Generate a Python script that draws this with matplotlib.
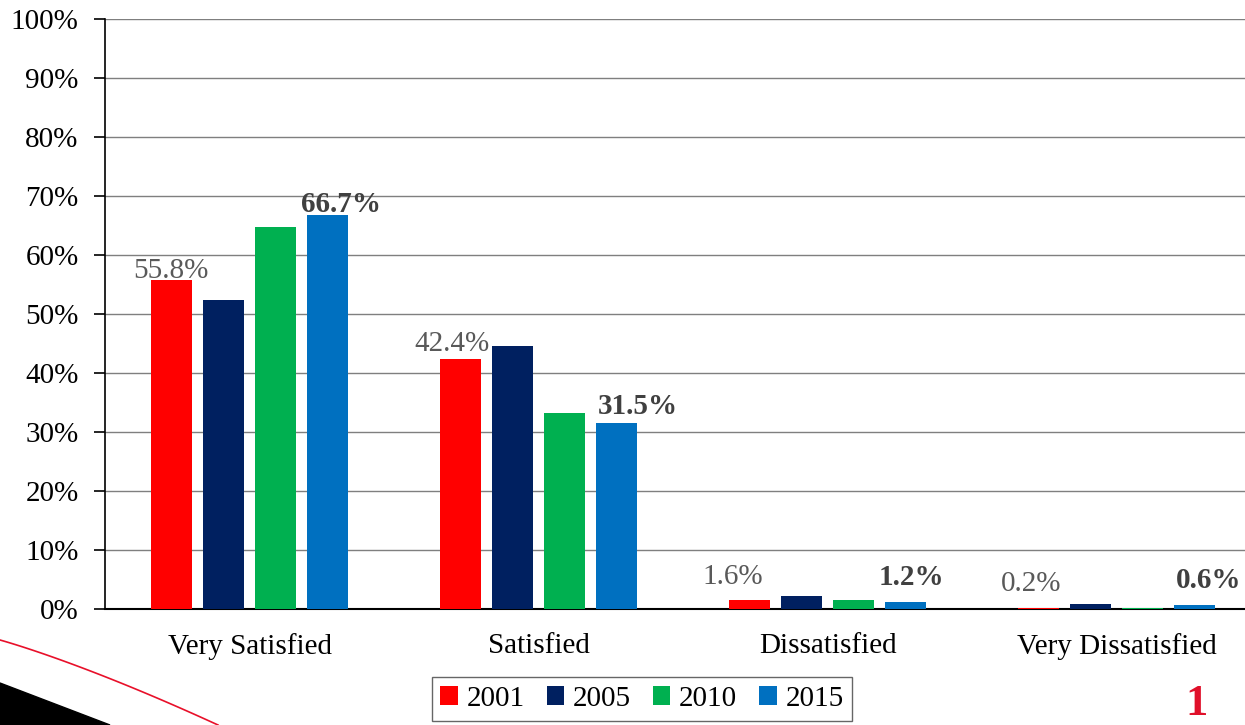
import numpy as np
import matplotlib.pyplot as plt
from matplotlib.patches import Polygon

plt.rcParams['font.family'] = ['Liberation Serif', 'DejaVu Serif']

# Veriler
categories = ["Very Satisfied", "Satisfied", "Dissatisfied", "Very Dissatisfied"]
years = ["2001", "2005", "2010", "2015"]
v2001 = [55.8, 42.4, 1.6, 0.2]
v2005 = [52.4, 44.6, 2.2, 0.8]
v2010 = [64.7, 33.2, 1.5, 0.2]
v2015 = [66.7, 31.5, 1.2, 0.6]
yticks = [0, 10, 20, 30, 40, 50, 60, 70, 80, 90, 100]

series = [v2001, v2005, v2010, v2015]
colors = ["#ff0000", "#002060", "#00b050", "#0070c0"]

# etiket kaydırmaları (piksel): orijinal grafikte elle yerleştirilmiş
lab_dx = {0: [0, -8, -16, -7], 3: [13, 21, 5, 14]}
lab_dy = {0: [12, 18, 26, 27], 3: [14, 20, 27, 28]}

W, H = 1245, 725
FS = 21
fig = plt.figure(figsize=(W / 100, H / 100), dpi=100)
# eksen: sol 105px, kategori başına 289px (sağ kenar figürün dışına taşıyor)
ax = fig.add_axes([105 / W, (H - 609) / H, 1156 / W, 590 / H])

x = np.arange(len(categories))
bw = 0.142
pitch = 0.181
for i, (vals, c, yr) in enumerate(zip(series, colors, years)):
    pos = x + (i - 1.5) * pitch
    ax.bar(pos, vals, width=bw, color=c, label=yr, zorder=3)
    if i in lab_dx:
        bold = i == 3
        for k, (p, v) in enumerate(zip(pos, vals)):
            ax.annotate(f"{v:.1f}%", (p, v),
                        xytext=(lab_dx[i][k] * 0.72, (lab_dy[i][k] - 3) * 0.72),
                        textcoords="offset points", ha="center", va="center",
                        fontsize=FS, annotation_clip=False,
                        color="#404040" if bold else "#595959",
                        fontweight="bold" if bold else "normal")

ax.set_xlim(-0.5, 3.5)
ax.set_ylim(0, 100)
ax.set_yticks(yticks)
ax.set_yticklabels([f"{t}%" for t in yticks], fontsize=FS)
ax.set_xticks(x)
ax.set_xticklabels(categories, fontsize=FS)
ax.tick_params(axis="x", length=0, pad=17)
ax.tick_params(axis="y", length=8, width=1.2, direction="out", pad=11)
ax.grid(axis="y", color="#7f7f7f", linewidth=1, zorder=0)
for s in ["top", "right"]:
    ax.spines[s].set_visible(False)
ax.spines["left"].set_linewidth(1.2)
ax.spines["bottom"].set_linewidth(1.5)

leg = fig.legend(loc="center", bbox_to_anchor=(642 / W, 1 - 699 / H), ncol=4,
                 fontsize=FS, frameon=True, fancybox=False, handlelength=0.6,
                 handleheight=0.6, handletextpad=0.3, columnspacing=0.75,
                 borderpad=0.3)
leg.get_frame().set_edgecolor("#404040")
leg.get_frame().set_linewidth(1)

# Sol alt köşedeki süsleme (kırmızı çizgi ve siyah şerit)
t = np.linspace(0, 1, 50)
cx = 0 + 218 * t
cy = 640 + 60 * t + 25 * t ** 1.6
fig.add_artist(plt.Line2D(cx / W, 1 - cy / H, color="#e8102a", lw=1.2))
fig.add_artist(Polygon([[0, 1 - 683 / H], [110 / W, 0], [0, 0]],
                       closed=True, color="black", transform=fig.transFigure))

# Sağ alt logo parçası
fig.text(1185 / W, 1 - 715 / H, "1", color="#e0102a", fontsize=32,
         fontweight="bold", ha="left", va="baseline")

fig.savefig("out.png", dpi=100)
